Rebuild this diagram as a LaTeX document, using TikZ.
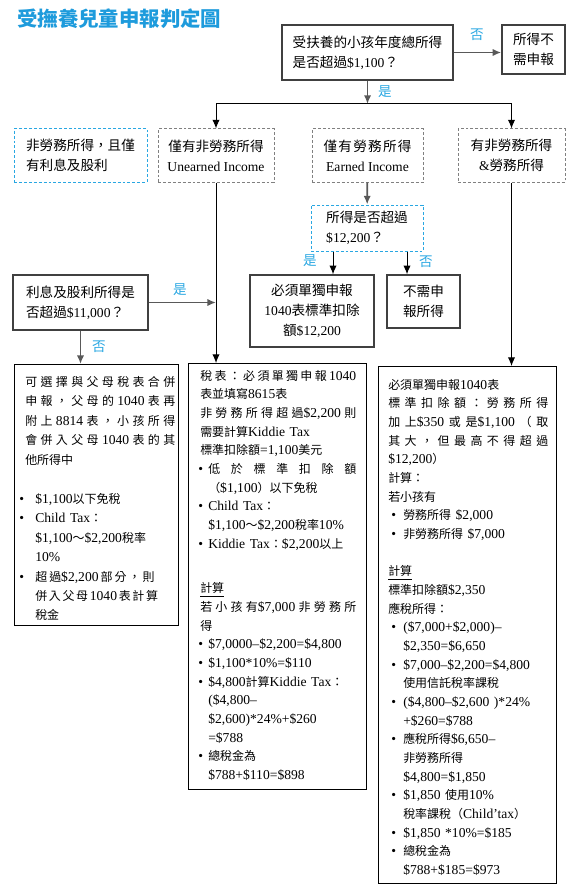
\documentclass[tikz,border=0pt]{standalone}
\usepackage{fontspec}
\usepackage{tikz}
\usetikzlibrary{positioning,calc,arrows.meta}

\setmainfont{Liberation Serif}
\newfontfamily\cjkfont{Noto Sans CJK TC}
\newfontfamily\cjksmall[Scale=0.88]{Noto Sans CJK TC}
\newcommand{\cjkcur}{\cjkfont}
\newcommand{\latinfont}{\rmfamily}
\newcommand{\cjkglue}{\hskip 0pt plus 2pt\relax}

% switch to the CJK font for Han characters and full-width punctuation
\newXeTeXintercharclass\cjkclass
\newcount\cjkcode
\newcommand{\cjkrange}[2]{%
    \cjkcode=#1\relax
    \loop
        \XeTeXcharclass\cjkcode=\cjkclass
        \advance\cjkcode by 1\relax
    \ifnum\cjkcode<#2\relax
    \repeat}
\cjkrange{"3000}{"3040}
\cjkrange{"4E00}{"A000}
\cjkrange{"FF00}{"FFF0}
\XeTeXinterchartoks 0 \cjkclass = {\cjkcur\cjkglue}
\XeTeXinterchartoks 4095 \cjkclass = {\cjkcur}
\XeTeXinterchartoks \cjkclass 0 = {\cjkglue\latinfont}
\XeTeXinterchartoks \cjkclass 4095 = {\latinfont}
\XeTeXinterchartoks \cjkclass \cjkclass = {\cjkglue}

\newlength\bulskip
\newlength\bulwd
\newcommand{\bulset}[2]{\setlength\bulskip{#1}\setlength\bulwd{#2}\rightskip=0pt\relax}
\newcommand{\bul}{\hspace*{\bulskip}\makebox[\bulwd][l]{\textbullet}}
\newcommand{\ind}{\hspace*{\bulskip}\hspace*{\bulwd}}

\definecolor{lblue}{RGB}{41,167,226}
\definecolor{tblue}{RGB}{30,155,220}
\definecolor{boxgray}{RGB}{64,64,64}
\definecolor{dashgray}{RGB}{128,128,128}
\setlength{\parindent}{0pt}
\tolerance=10000
\hbadness=10000
\XeTeXinterchartokenstate=1

\begin{document}
\begin{tikzpicture}[x=0.75pt,y=-0.75pt,
    box/.style={draw=boxgray,line width=1.1pt,inner sep=0pt,align=center,font={\fontsize{10.2}{15}\selectfont}},
    gbox/.style={box,draw=dashgray,line width=0.75pt,dash pattern=on 2.2pt off 1.5pt},
    bbox/.style={gbox,draw=lblue},
    frame/.style={draw=black,line width=0.8pt,anchor=north west,inner sep=0pt},
    txt/.style={anchor=north west,inner sep=0pt,text width=#1,font={\fontsize{10.2}{14}\selectfont\let\cjkcur\cjksmall}},
    lbl/.style={text=lblue,inner sep=0pt,font={\fontsize{10.2}{12}\selectfont}},
    arr/.style={draw=black,line width=0.75pt,-{Latex[length=6.5pt,width=5.5pt]}},
    garr/.style={draw=gray!70!black,line width=1.3pt,-{Latex[length=6.5pt,width=5.5pt]}}]
    \useasboundingbox (0,0) rectangle (571,895);

    \node[anchor=west,inner sep=0pt,text=tblue,font={\bfseries\fontsize{15.3}{18}\selectfont}] (title) at (17,19) {受撫養兒童申報判定圖};

    \node[box,align=left,minimum width=128.25pt,minimum height=41.25pt] (q1) at (367.5,52.5) {受扶養的小孩年度總所得\\是否超過\$1,100？};
    \node[box,minimum width=47.25pt,minimum height=36.75pt] (nofile) at (533.5,49.5) {所得不\\需申報};

    \node[bbox,align=left,minimum width=99.75pt,minimum height=39.75pt] (intdiv) at (80.5,155.5) {非勞務所得，且僅\\有利息及股利};
    \node[gbox,minimum width=87pt,minimum height=39.75pt] (unearned) at (216,155.5) {僅有非勞務所得\\Unearned Income};
    \node[gbox,minimum width=83.25pt,minimum height=39.75pt] (earned) at (367.5,155.5) {\makebox[66pt][s]{僅有勞務所得}\\Earned Income};
    \node[gbox,minimum width=80.25pt,minimum height=39.75pt] (both) at (511.5,155.5) {有非勞務所得\\\&勞務所得};

    \node[bbox,align=left,minimum width=84pt,minimum height=34.5pt] (q2) at (367,228) {所得是否超過\\\$12,200？};
    \node[box,minimum width=93pt,minimum height=54pt] (must) at (312,311) {必須單獨申報\\1040表標準扣除\\額\$12,200};
    \node[box,minimum width=54.75pt,minimum height=39.75pt] (noneed) at (423.5,301.5) {不需申\\報所得};
    \node[box,align=left,minimum width=101.25pt,minimum height=41.25pt] (q3) at (80.5,302.5) {利息及股利所得是\\否超過\$11,000？};

    \node[frame,minimum width=123pt,minimum height=195.75pt] (boxA) at (14,364) {};
    \node[frame,minimum width=133.5pt,minimum height=319.5pt] (boxB) at (188,363) {};
    \node[frame,minimum width=133.5pt,minimum height=387.75pt] (boxC) at (378,366) {};

    \node[txt=112.5pt,font={\fontsize{10.2}{14.6}\selectfont\let\cjkcur\cjksmall}] (textA) at (25,376) {\bulset{-4.5pt}{12pt}%
        可選擇與父母稅表合併\linebreak
        申報，父母的1040表再\linebreak
        附上8814表，小孩所得\linebreak
        會併入父母1040表的其\linebreak
        他所得中\\[14.6pt]
        \bul \$1,100以下免稅\\
        \bul Child Tax：\\
        \ind \$1,100～\$2,200稅率\\
        \ind 10\%\\
        \bul 超過\$2,200部分，則\linebreak
        \ind 併入父母1040表計算\linebreak
        \ind 稅金};

    \node[txt=117pt] (textB) at (200,370) {\bulset{-1.5pt}{7.5pt}%
        稅表：必須單獨申報1040\linebreak
        表並填寫8615表\\
        非勞務所得超過\$2,200則\linebreak
        需要計算Kiddie Tax\\
        標準扣除額=1,100美元\\
        \bul 低於標準扣除額\linebreak
        \ind （\$1,100）以下免稅\\
        \bul Child Tax：\\
        \ind \$1,100～\$2,200稅率10\%\\
        \bul Kiddie Tax：\$2,200以上\\[19.5pt]
        \underline{計算}\\
        若小孩有\$7,000非勞務所\linebreak
        得\\
        \bul \$7,0000–\$2,200=\$4,800\\
        \bul \$1,100*10\%=\$110\\
        \bul \$4,800計算Kiddie Tax：\\
        \ind (\$4,800–\\
        \ind \$2,600)*24\%+\$260\\
        \ind =\$788\\
        \bul 總稅金為\\
        \ind \$788+\$110=\$898};

    \node[txt=120pt] (textC) at (388,379) {\bulset{2.25pt}{9pt}%
        必須單獨申報1040表\\
        標準扣除額：勞務所得\linebreak
        加上\$350或是\$1,100（取\linebreak
        其大，但最高不得超過\linebreak
        \$12,200）\\
        計算：\\
        若小孩有\\
        \bul 勞務所得 \$2,000\\
        \bul 非勞務所得 \$7,000\\[14pt]
        \underline{計算}\\
        標準扣除額\$2,350\\
        應稅所得：\\
        \bul (\$7,000+\$2,000)–\\
        \ind \$2,350=\$6,650\\
        \bul \$7,000–\$2,200=\$4,800\\
        \ind 使用信託稅率課稅\\
        \bul (\$4,800–\$2,600 )*24\%\\
        \ind +\$260=\$788\\
        \bul 應稅所得\$6,650–\\
        \ind 非勞務所得\\
        \ind \$4,800=\$1,850\\
        \bul \$1,850 使用10\%\\
        \ind 稅率課稅（Child’tax）\\
        \bul \$1,850 *10\%=\$185\\
        \bul 總稅金為\\
        \ind \$788+\$185=\$973};

    \coordinate (split) at (367.5,104);
    \coordinate (yesq2) at ([xshift=-25.5pt]q2.south);
    \coordinate (noq2) at ([xshift=30pt]q2.south);

    \draw[garr] (q1) -- (q1 -| nofile.west);
    \draw[garr] (q1) -- (split);
    \draw[arr] (split) -| (unearned);
    \draw[arr] (split) -| (both);
    \draw[garr] (earned) -- (q2);
    \draw[arr] (yesq2) -- (yesq2 |- must.north);
    \draw[arr] (noq2) -- (noq2 |- noneed.north);
    \draw[arr] (unearned) -- (unearned |- boxB.north);
    \draw[garr] (q3) -- (q3 -| unearned);
    \draw[garr] (q3) -- (q3 |- boxA.north);
    \draw[arr] (both) -- (both |- boxC.north);

    \node[lbl] (no1) at (477,35) {否};
    \node[lbl] (yes1) at (385,92) {是};
    \node[lbl] (yes2) at (310,261) {是};
    \node[lbl] (no2) at (426,262) {否};
    \node[lbl] (yes3) at (180,290) {是};
    \node[lbl] (no3) at (99,347) {否};
\end{tikzpicture}
\end{document}
